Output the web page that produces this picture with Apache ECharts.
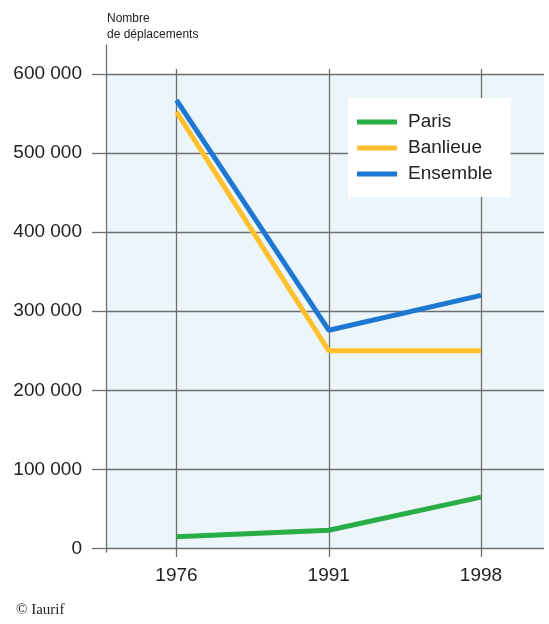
<!DOCTYPE html>
<html>
<head>
<meta charset="utf-8">
<script src="https://cdn.jsdelivr.net/npm/echarts@6/dist/echarts.min.js"></script>
<style>
html,body{margin:0;padding:0;background:#fff;}
#chart{width:549px;height:624px;}
</style>
</head>
<body>
<div id="chart"></div>
<script>
const years = ['1976', '1991', '1998'];
const paris = [15000, 23000, 65000];
const banlieue = [552000, 250000, 250000];
const ensemble = [567000, 276000, 320000];
const yTicks = [0, 100000, 200000, 300000, 400000, 500000, 600000];

const FONT = '"Liberation Sans", Arial, Helvetica, sans-serif';
const GRID_COLOR = '#6f6f6f';
const fmt = v => String(v).replace(/\B(?=(\d{3})+(?!\d))/g, ' ');

const chart = echarts.init(document.getElementById('chart'), null, {renderer: 'canvas'});
chart.setOption({
  animation: false,
  textStyle: {fontFamily: FONT},
  title: [
    {text: 'Nombre\nde déplacements', left: 102, top: 6,
     textStyle: {fontSize: 12, fontWeight: 'normal', color: '#222', lineHeight: 16, fontFamily: FONT}},
    {text: '© Iaurif', left: 11, top: 598,
     textStyle: {fontSize: 15, fontWeight: 'normal', color: '#222', fontFamily: '"Liberation Serif", "DejaVu Serif", serif'}}
  ],
  legend: {
    orient: 'vertical', left: 348, top: 98,
    backgroundColor: '#ffffff',
    padding: [14, 18, 13, 9],
    itemWidth: 40, itemHeight: 5, itemGap: 6,
    icon: 'rect',
    textStyle: {fontSize: 19, color: '#222', lineHeight: 20, padding: [0, 0, 0, 6], fontFamily: FONT},
    data: ['Paris', 'Banlieue', 'Ensemble']
  },
  grid: [
    {left: 106, right: 5, top: 74, bottom: 75.5, show: true, backgroundColor: '#ebf5fa', borderWidth: 0, z: 0},
    {left: 106, right: 5, top: 45, bottom: 72, show: false},
    {left: 176.5, right: 68, top: 69, bottom: 67, show: false},
    {left: 176.5, right: 68, top: 74, bottom: 75.5, show: false}
  ],
  xAxis: [
    {gridIndex: 0, type: 'value', min: 0, max: 1, show: false},
    {gridIndex: 1, type: 'value', min: 0, max: 1, show: false},
    {gridIndex: 2, type: 'category', data: years, boundaryGap: false,
     axisLine: {show: false}, axisTick: {show: false}, axisLabel: {show: false},
     splitLine: {show: true, lineStyle: {color: GRID_COLOR, width: 1.3}}},
    {gridIndex: 3, type: 'category', data: years, boundaryGap: false,
     axisLine: {show: false}, axisTick: {show: false}, splitLine: {show: false},
     axisLabel: {show: true, margin: 18, fontSize: 19, color: '#222', fontFamily: FONT}}
  ],
  yAxis: [
    {gridIndex: 0, type: 'value', min: 0, max: 600000, interval: 100000,
     axisLine: {show: false},
     axisTick: {show: true, length: 14, lineStyle: {color: GRID_COLOR, width: 1.3}},
     axisLabel: {show: true, margin: 24, fontSize: 19, color: '#222', fontFamily: FONT,
       formatter: v => yTicks.includes(v) ? fmt(v) : ''},
     splitLine: {show: true, lineStyle: {color: GRID_COLOR, width: 1.3}}},
    {gridIndex: 1, type: 'value', min: 0, max: 1,
     axisLine: {show: true, lineStyle: {color: GRID_COLOR, width: 1.3}},
     axisTick: {show: false}, axisLabel: {show: false}, splitLine: {show: false}},
    {gridIndex: 2, type: 'value', min: 0, max: 1, show: false},
    {gridIndex: 3, type: 'value', min: 0, max: 600000, show: false}
  ],
  series: [
    {name: 'Paris', type: 'line', xAxisIndex: 3, yAxisIndex: 3, data: paris,
     symbol: 'none', lineStyle: {width: 5, color: '#29ad47'}, itemStyle: {color: '#29ad47'}, z: 5},
    {name: 'Banlieue', type: 'line', xAxisIndex: 3, yAxisIndex: 3, data: banlieue,
     symbol: 'none', lineStyle: {width: 5, color: '#ffc02e'}, itemStyle: {color: '#ffc02e'}, z: 5},
    {name: 'Ensemble', type: 'line', xAxisIndex: 3, yAxisIndex: 3, data: ensemble,
     symbol: 'none', lineStyle: {width: 5, color: '#1e78d2'}, itemStyle: {color: '#1e78d2'}, z: 6}
  ]
});
</script>
</body>
</html>
